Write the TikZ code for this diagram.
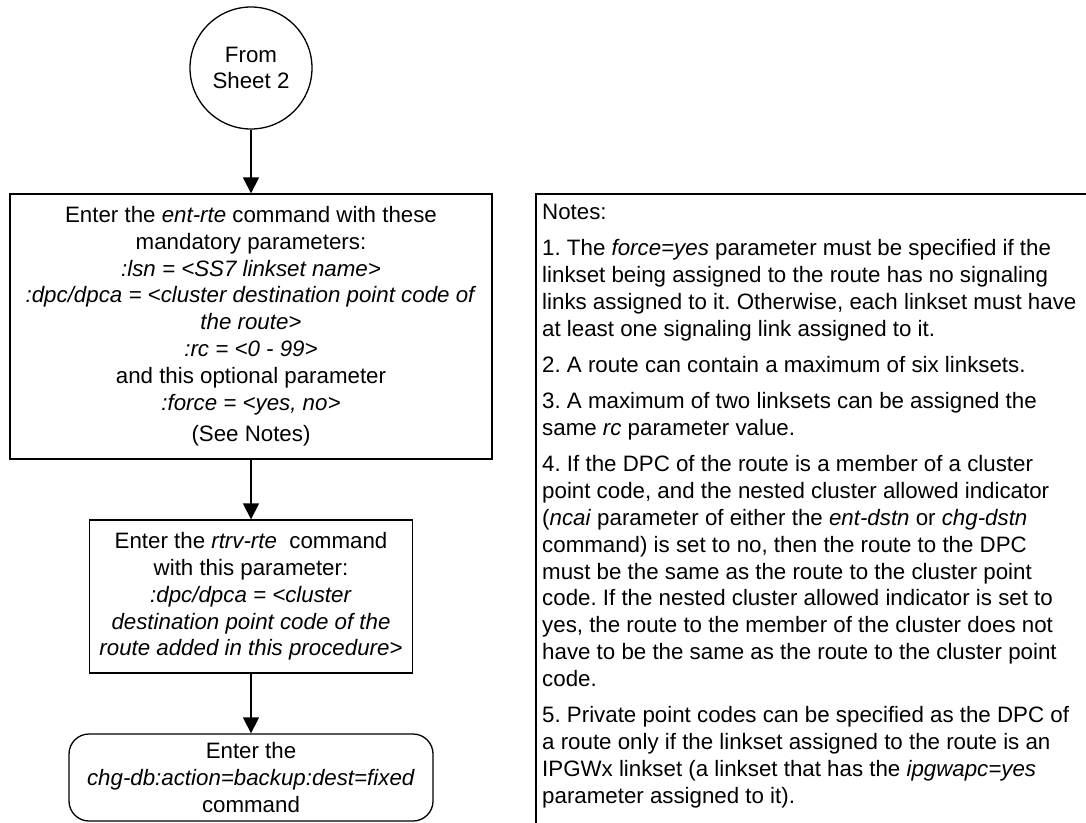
\documentclass[tikz,border=0pt]{standalone}
\usepackage{fontspec}
\setmainfont{Liberation Sans}
\usetikzlibrary{arrows.meta}
\frenchspacing
\begin{document}
\begin{tikzpicture}[x=1pt,y=-1pt,
  every node/.style={font=\fontsize{22.3}{26.8}\selectfont},
  line/.style={line width=1.3pt},
  boxnode/.style={draw, line width=1.3pt, align=center, inner sep=0pt},
  arr/.style={line width=1.3pt, -{Triangle[length=16pt,width=16pt]}}]
\useasboundingbox (0,0) rectangle (1086,822);
\clip (0,0) rectangle (1086,822);
\node[boxnode, circle, minimum size=122pt] (start) at (251,68) {From\\Sheet 2};
\node[boxnode, minimum width=482pt, minimum height=265pt] (b1) at (251,326.5)
  {Enter the \textit{ent-rte} command with these\\
   mandatory parameters:\\
   \textit{:lsn = <SS7 linkset name>}\\
   \textit{:dpc/dpca = <cluster destination point code of}\\
   \textit{the route>}\\
   \textit{:rc = <0 - 99>}\\
   and this optional parameter\\
   \textit{:force = <yes, no>}\\[5pt]
   (See Notes)};
\node[boxnode, minimum width=323pt, minimum height=153pt] (b2) at (251,596.5)
  {Enter the \textit{rtrv-rte}\ \ command\\
   with this parameter:\\
   \textit{:dpc/dpca = <cluster}\\
   \textit{destination point code of the}\\
   \textit{route added in this procedure>}};
\node[boxnode, rounded corners=20pt, minimum width=364pt, minimum height=87pt] (b3) at (251,777.5)
  {Enter the\\
   \textit{chg-db:action=backup:dest=fixed}\\
   command};
\draw[arr] (start.south) -- (b1.north);
\draw[arr] (b1.south) -- (b2.north);
\draw[arr] (b2.south) -- (b3.north);
\draw[line] (536,194) rectangle (1094,830);
\node[anchor=north west, align=left, inner sep=0pt] (notes) at (542,204)
  {Notes:\\[9.5pt]
   1. The \textit{force=yes} parameter must be specified if the\\
   linkset being assigned to the route has no signaling\\
   links assigned to it. Otherwise, each linkset must have\\
   at least one signaling link assigned to it.\\[9.5pt]
   2. A route can contain a maximum of six linksets.\\[9.5pt]
   3. A maximum of two linksets can be assigned the\\
   same \textit{rc} parameter value.\\[9.5pt]
   4. If the DPC of the route is a member of a cluster\\
   point code, and the nested cluster allowed indicator\\
   (\textit{ncai} parameter of either the \textit{ent-dstn} or \textit{chg-dstn}\\
   command) is set to no, then the route to the DPC\\
   must be the same as the route to the cluster point\\
   code. If the nested cluster allowed indicator is set to\\
   yes, the route to the member of the cluster does not\\
   have to be the same as the route to the cluster point\\
   code.\\[9.5pt]
   5. Private point codes can be specified as the DPC of\\
   a route only if the linkset assigned to the route is an\\
   IPGWx linkset (a linkset that has the \textit{ipgwapc=yes}\\
   parameter assigned to it).};
\end{tikzpicture}
\end{document}
